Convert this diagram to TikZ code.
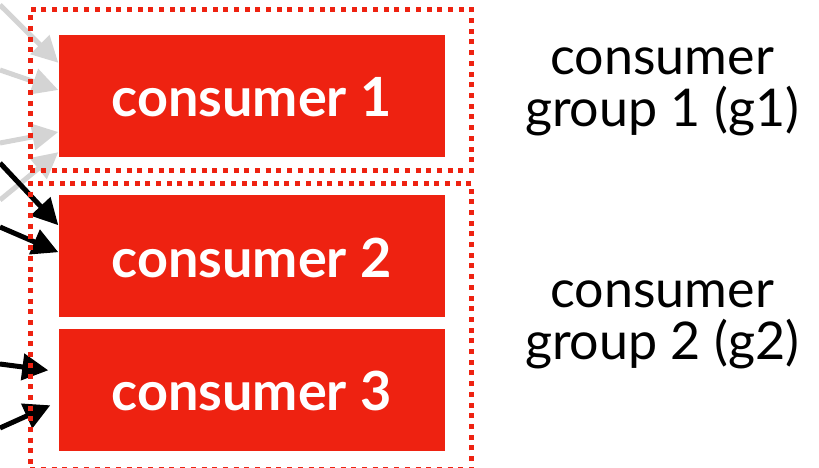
\documentclass[tikz,border=0pt]{standalone}
\usepackage{fontspec}
\setmainfont{Lato}
\usetikzlibrary{arrows.meta, positioning, fit}

\definecolor{kred}{HTML}{EE2211}
\definecolor{kgray}{HTML}{D4D4D4}

\begin{document}
\begin{tikzpicture}[
  x=1pt, y=-1pt,
  box/.style={fill=kred, text=white, minimum width=386pt, minimum height=122pt, inner sep=0pt,
    text height=42pt, text depth=0pt, font=\fontsize{54}{60}\selectfont\bfseries},
  group/.style={draw=kred, line width=5pt, dash pattern=on 5pt off 5.7pt, inner sep=0pt},
  grouplabel/.style={align=center, inner sep=0pt, font=\fontsize{52}{52}\selectfont},
  arrow/.style={-{Triangle[length=26pt, width=26pt]}, line width=5pt},
  ghost/.style={arrow, draw=kgray}
]
  \useasboundingbox (0,0) rectangle (819,468);

  \node[box] (c1) at (251.5,96) {consumer 1};
  \node[box, below=38pt of c1] (c2) {consumer 2};
  \node[box, below=11pt of c2] (c3) {consumer 3};

  % incoming from the left
  \coordinate (s1) at (0,5);
  \coordinate (s2) at (0,70);
  \coordinate (s3) at (0,143);
  \coordinate (s4) at (0,200);
  \coordinate (s5) at (0,163);
  \coordinate (s6) at (0,227);
  \coordinate (s7) at (0,364);
  \coordinate (s8) at (0,428);

  \draw[ghost] (s1) -- ([yshift=-28pt]c1.north west);
  \draw[ghost] (s2) -- ([yshift=6pt]c1.west);
  \draw[ghost] (s3) -- ([yshift=-36pt]c1.west);
  \draw[ghost] (s4) -- ([yshift=5pt]c1.south west);
  \draw[arrow] (s5) -- ([yshift=-30pt]c2.north west);
  \draw[arrow] (s6) -- ([yshift=-57pt]c2.north west);
  \draw[arrow] (s7) -- ([shift={(-10pt,19.5pt)}]c3.west);
  \draw[arrow] (s8) -- ([shift={(-8pt,-15.5pt)}]c3.west);

  % consumer groups
  \coordinate (g1a) at ([shift={(-28pt,25pt)}]c1.north west);
  \coordinate (g1b) at ([shift={(27pt,-13pt)}]c1.south east);
  \coordinate (g2a) at ([shift={(-28pt,12pt)}]c2.north west);
  \coordinate (g2b) at ([shift={(27pt,-18pt)}]c3.south east);
  \node[group, fit=(g1a)(g1b)] (g1) {};
  \node[group, fit=(g2a)(g2b)] (g2) {};

  \node[grouplabel] (l1) at ([shift={(188pt,-2pt)}]g1.east) {consumer\\group 1 (g1)};
  \node[grouplabel] (l2) at ([shift={(188pt,1pt)}]g2.east) {consumer\\group 2 (g2)};
\end{tikzpicture}
\end{document}
